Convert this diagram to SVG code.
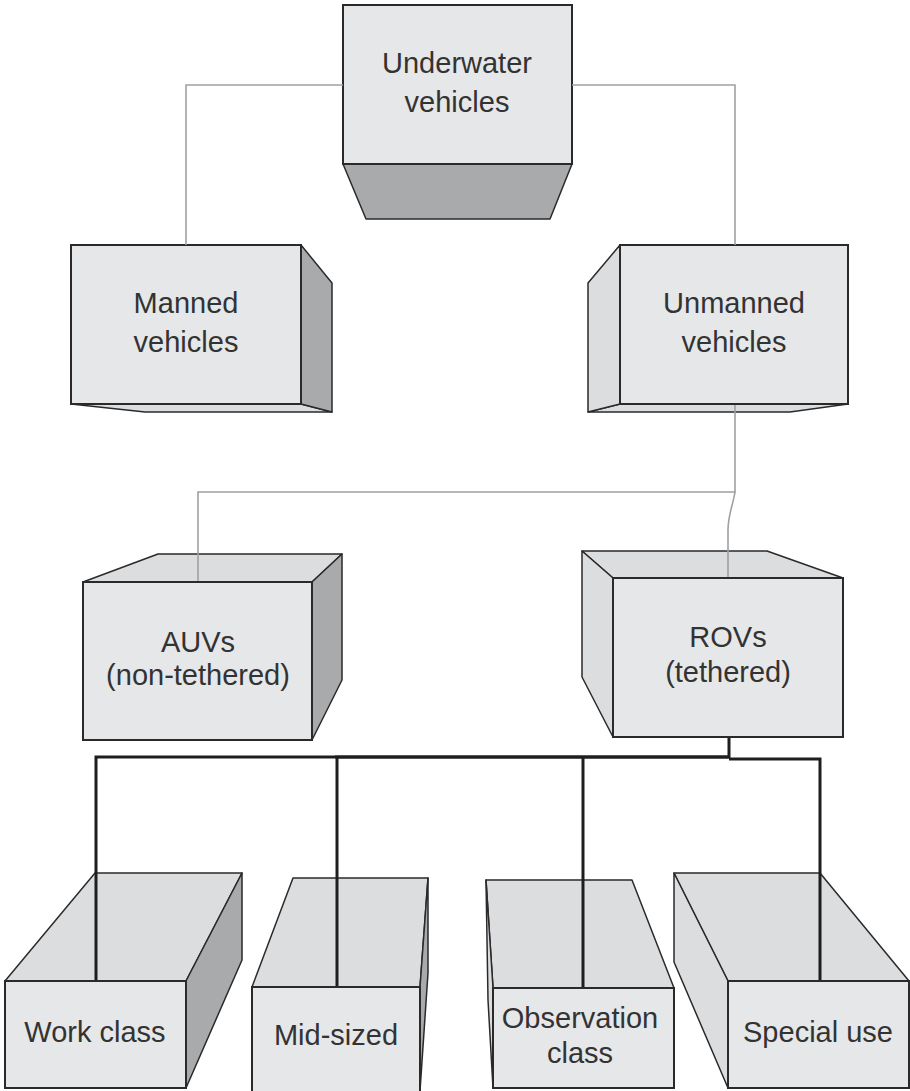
<svg xmlns="http://www.w3.org/2000/svg" width="910" height="1091" viewBox="0 0 910 1091">
<style>
.front{fill:#e6e7e8;stroke:#2a2a2a;stroke-width:2}
.light{fill:#dcdddf;stroke:#2a2a2a;stroke-width:1.5;stroke-linejoin:round}
.dark{fill:#a9aaac;stroke:#2a2a2a;stroke-width:1.5;stroke-linejoin:round}
.thin{fill:none;stroke:#a0a0a0;stroke-width:1.6}
.thick{fill:none;stroke:#1e1e1e;stroke-width:3}
text{font-family:"Liberation Sans",Arial,sans-serif;font-size:29px;fill:#333;text-anchor:middle}
</style>
<rect width="910" height="1091" fill="#fff"/>
<g id="underwater">
<polygon class="dark" points="343,164 572,164 550,219 366,219"/>
<rect class="front" x="343" y="5" width="229" height="159"/>
<text x="457" y="73">Underwater</text>
<text x="457" y="112">vehicles</text>
</g>
<g id="manned">
<polygon class="light" points="71,404 301,404 332,412 145,412" stroke-width="1"/>
<polygon class="dark" points="301,245 332,283 332,412 301,404"/>
<rect class="front" x="71" y="245" width="230" height="159"/>
<text x="186" y="313">Manned</text>
<text x="186" y="352">vehicles</text>
</g>
<g id="unmanned">
<polygon class="light" points="588,412 620,404 848,404 790,412" stroke-width="1"/>
<polygon class="light" points="620,245 588,283 588,412 620,404"/>
<rect class="front" x="620" y="245" width="228" height="159"/>
<text x="734" y="313">Unmanned</text>
<text x="734" y="352">vehicles</text>
</g>
<g id="auvs">
<polygon class="light" points="83,582 158,554 342,554 312,582"/>
<polygon class="dark" points="312,582 342,554 342,680 312,740"/>
<rect class="front" x="83" y="582" width="229" height="158"/>
<text x="198" y="652">AUVs</text>
<text x="198" y="685">(non-tethered)</text>
</g>
<g id="rovs">
<polygon class="light" points="582,551 767,551 843,578 613,578"/>
<polygon class="light" points="582,551 613,578 613,737 582,677"/>
<rect class="front" x="613" y="578" width="230" height="159"/>
<text x="728" y="647">ROVs</text>
<text x="728" y="682">(tethered)</text>
</g>
<g id="workclass">
<polygon class="light" points="5,981 95,873 242,873 186,981"/>
<polygon class="dark" points="186,981 242,873 242,960 186,1088"/>
<rect class="front" x="5" y="981" width="181" height="107"/>
<text x="95" y="1042">Work class</text>
</g>
<g id="midsized">
<polygon class="light" points="252,987 293,878 428,878 420,987"/>
<polygon class="dark" points="420,987 428,878 428,973 420,1091"/>
<rect class="front" x="252" y="987" width="168" height="106"/>
<text x="336" y="1045">Mid-sized</text>
</g>
<g id="observation">
<polygon class="light" points="486,880 632,880 674,988 493,988"/>
<polygon class="light" points="486,880 493,988 493,1088 488,1000"/>
<rect class="front" x="493" y="988" width="181" height="100"/>
<text x="580" y="1028">Observation</text>
<text x="580" y="1063">class</text>
</g>
<g id="specialuse">
<polygon class="light" points="674,873 820,873 909,981 728,981"/>
<polygon class="light" points="674,873 728,981 728,1088 674,962"/>
<rect class="front" x="728" y="981" width="181" height="107"/>
<text x="818" y="1042">Special use</text>
</g>
<g id="connectors">
<polyline class="thin" points="343,85 186,85 186,245"/>
<polyline class="thin" points="572,85 735,85 735,245"/>
<polyline class="thin" points="735,405 735,492 198,492 198,581"/>
<path class="thin" d="M735,492 C733,505 728,515 728,530 L728,577"/>
<polyline class="thick" points="729,738 729,757 96,757 96,980"/>
<line class="thick" x1="335" y1="757" x2="729" y2="757" stroke-width="5"/>
<line class="thick" x1="337" y1="757" x2="337" y2="986"/>
<line class="thick" x1="583" y1="757" x2="583" y2="987"/>
<polyline class="thick" points="729,759 820,759 820,980"/>
</g>
</svg>
